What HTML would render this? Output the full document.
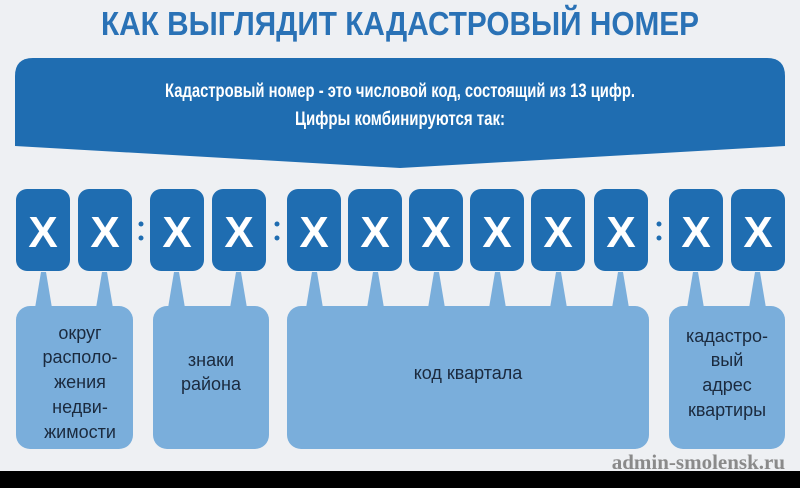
<!DOCTYPE html>
<html><head><meta charset="utf-8"><style>
html,body{margin:0;padding:0;background:#eef0f3;}
body{width:800px;height:488px;overflow:hidden;position:relative;}
svg{position:absolute;left:0;top:0;}
</style></head><body>
<svg width="800" height="488" viewBox="0 0 800 488" xmlns="http://www.w3.org/2000/svg" font-family="Liberation Sans, DejaVu Sans, sans-serif">
<rect width="800" height="488" fill="#eef0f3"/>
<text x="400" y="35" text-anchor="middle" font-size="33" font-weight="bold" fill="#2a72b6" textLength="598" lengthAdjust="spacingAndGlyphs">КАК ВЫГЛЯДИТ КАДАСТРОВЫЙ НОМЕР</text>
<path d="M33,58 H767 Q785,58 785,76 V146 L400,168 L15,146 V76 Q15,58 33,58 Z" fill="#1f6db1"/>
<text x="400" y="97" text-anchor="middle" font-size="19" font-weight="bold" fill="#fff" textLength="470" lengthAdjust="spacingAndGlyphs">Кадастровый номер - это числовой код, состоящий из 13 цифр.</text>
<text x="400" y="125" text-anchor="middle" font-size="19" font-weight="bold" fill="#fff" textLength="210" lengthAdjust="spacingAndGlyphs">Цифры комбинируются так:</text>
<g fill="#7aaedb">
<rect x="16" y="306" width="117" height="143" rx="14"/>
<rect x="153" y="306" width="116" height="143" rx="14"/>
<rect x="287" y="306" width="362" height="143" rx="14"/>
<rect x="669" y="306" width="116" height="143" rx="14"/>
<path d="M41,272 h5 l6,36 h-17 z M102,272 h5 l6,36 h-17 z M174,272 h5 l6,36 h-17 z M236,272 h5 l6,36 h-17 z M312,272 h5 l6,36 h-17 z M373,272 h5 l6,36 h-17 z M434,272 h5 l6,36 h-17 z M495,272 h5 l6,36 h-17 z M556,272 h5 l6,36 h-17 z M618,272 h5 l6,36 h-17 z M693,272 h5 l6,36 h-17 z M755,272 h5 l6,36 h-17 z"/>
</g>
<g fill="#1f6db1">
<rect x="16" y="189" width="54" height="82" rx="11"/>
<rect x="78" y="189" width="54" height="82" rx="11"/>
<rect x="150" y="189" width="54" height="82" rx="11"/>
<rect x="212" y="189" width="54" height="82" rx="11"/>
<rect x="287" y="189" width="54" height="82" rx="11"/>
<rect x="348" y="189" width="54" height="82" rx="11"/>
<rect x="409" y="189" width="54" height="82" rx="11"/>
<rect x="470" y="189" width="54" height="82" rx="11"/>
<rect x="531" y="189" width="54" height="82" rx="11"/>
<rect x="594" y="189" width="54" height="82" rx="11"/>
<rect x="669" y="189" width="54" height="82" rx="11"/>
<rect x="731" y="189" width="54" height="82" rx="11"/>
<circle cx="141" cy="224" r="2.5"/><circle cx="141" cy="238" r="2.5"/>
<circle cx="277" cy="224" r="2.5"/><circle cx="277" cy="238" r="2.5"/>
<circle cx="659" cy="224" r="2.5"/><circle cx="659" cy="238" r="2.5"/>
</g>
<g fill="#fff" font-size="44" font-weight="bold" text-anchor="middle">
<text x="43" y="247">X</text><text x="105" y="247">X</text>
<text x="177" y="247">X</text><text x="239" y="247">X</text>
<text x="314" y="247">X</text><text x="375" y="247">X</text>
<text x="436" y="247">X</text><text x="497" y="247">X</text>
<text x="558" y="247">X</text><text x="621" y="247">X</text>
<text x="696" y="247">X</text><text x="758" y="247">X</text>
</g>
<g fill="#1b2a3e" font-size="18" text-anchor="middle">
<text x="80" y="339">округ</text>
<text x="80" y="363">располо-</text>
<text x="80" y="388">жения</text>
<text x="80" y="413">недви-</text>
<text x="80" y="438">жимости</text>
<text x="211" y="366">знаки</text>
<text x="211" y="390">района</text>
<text x="468" y="379">код квартала</text>
<text x="727" y="342">кадастро-</text>
<text x="727" y="366">вый</text>
<text x="727" y="391">адрес</text>
<text x="727" y="416">квартиры</text>
</g>
<rect x="0" y="471" width="800" height="17" fill="#000"/>
<text x="785" y="469" text-anchor="end" font-family="Liberation Serif, serif" font-size="21" font-weight="bold" fill="#8a8a8a">admin-smolensk.ru</text>
</svg>
</body></html>
